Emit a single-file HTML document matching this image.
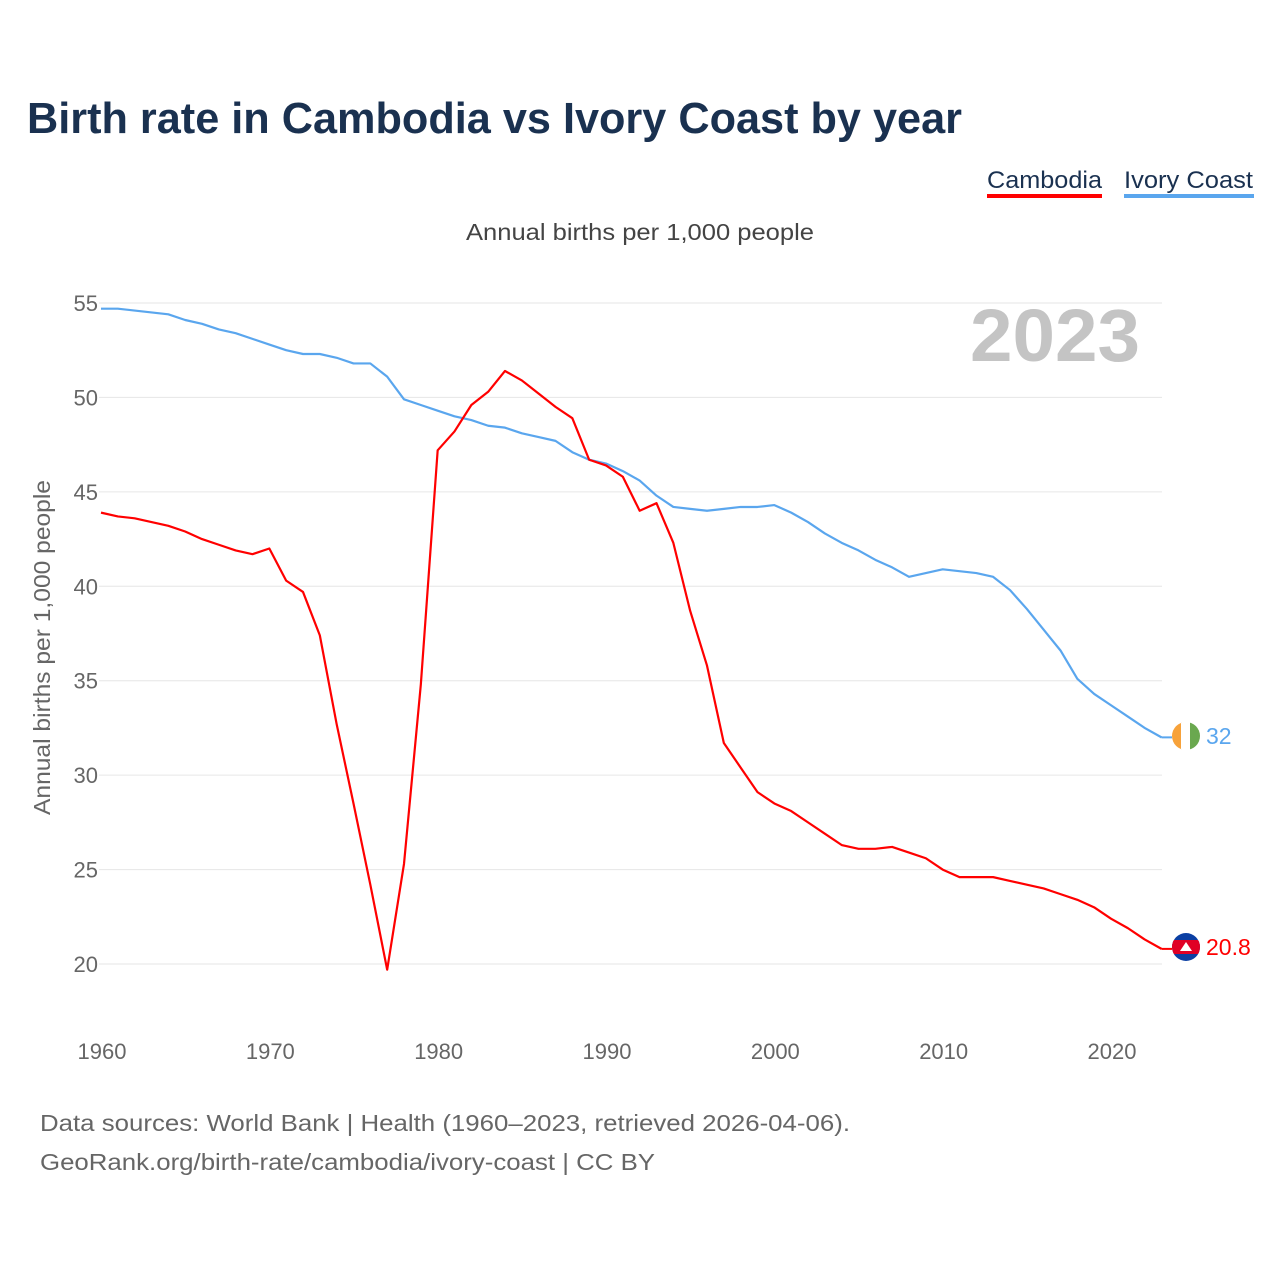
<!DOCTYPE html>
<html><head><meta charset="utf-8">
<style>
body{margin:0;background:#fff;font-family:"Liberation Sans",sans-serif;}
svg text{font-family:"Liberation Sans",sans-serif;}
</style></head>
<body>
<svg id="chart" width="1280" height="1280" xmlns="http://www.w3.org/2000/svg">
<text x="27" y="133" font-size="43.3" font-weight="bold" fill="#1a3150" textLength="935" lengthAdjust="spacingAndGlyphs">Birth rate in Cambodia vs Ivory Coast by year</text>
<g>
<text x="987" y="188" font-size="24" fill="#1a3150" textLength="115" lengthAdjust="spacingAndGlyphs">Cambodia</text>
<rect x="987" y="194" width="115" height="4" fill="#ff0000"/></g>
<g>
<text x="1124" y="188" font-size="24" fill="#1a3150" textLength="129" lengthAdjust="spacingAndGlyphs">Ivory Coast</text>
<rect x="1124" y="194" width="130" height="4" fill="#5aa6ee"/></g>
<text x="466" y="240" font-size="23" fill="#444" textLength="348" lengthAdjust="spacingAndGlyphs">Annual births per 1,000 people</text>
<text transform="translate(50,815) rotate(-90)" font-size="23" fill="#666" textLength="335" lengthAdjust="spacingAndGlyphs">Annual births per 1,000 people</text>
<text x="970" y="361" font-size="74" font-weight="bold" fill="#c4c4c4" textLength="170" lengthAdjust="spacingAndGlyphs">2023</text>
<g id="grid"></g><g id="xt"></g><g id="lines"></g>
<g>
<clipPath id="c1"><circle cx="1186" cy="736" r="14"/></clipPath>
<g clip-path="url(#c1)"><rect x="1172" y="722" width="10" height="28" fill="#f7a23a"/><rect x="1181" y="722" width="10" height="28" fill="#fff"/><rect x="1190" y="722" width="10" height="28" fill="#6aa84f"/></g></g>
<g>
<clipPath id="c2"><circle cx="1186" cy="947" r="14"/></clipPath>
<g clip-path="url(#c2)"><rect x="1172" y="933" width="28" height="28" fill="#0b3fa3"/><rect x="1172" y="940" width="28" height="14" fill="#e00025"/><path d="M1180 951 L1186 942 L1192 951Z" fill="#fff"/></g></g>
<text x="1206" y="744" font-size="23" fill="#5aa6ee">32</text>
<text x="1206" y="955" font-size="23" fill="#ff0000">20.8</text>
<text x="40" y="1131" font-size="23" fill="#666" textLength="810" lengthAdjust="spacingAndGlyphs">Data sources: World Bank | Health (1960–2023, retrieved 2026-04-06).</text>
<text x="40" y="1170" font-size="23" fill="#666" textLength="615" lengthAdjust="spacingAndGlyphs">GeoRank.org/birth-rate/cambodia/ivory-coast | CC BY</text>
</svg>
<script>
const years=[];for(let y=1960;y<=2023;y++)years.push(y);
const cambodia=[43.9,43.7,43.6,43.4,43.2,42.9,42.5,42.2,41.9,41.7,42.0,40.3,39.7,37.4,32.7,28.5,24.2,19.7,25.3,34.8,47.2,48.2,49.6,50.3,51.4,50.9,50.2,49.5,48.9,46.7,46.4,45.8,44.0,44.4,42.3,38.7,35.8,31.7,30.4,29.1,28.5,28.1,27.5,26.9,26.3,26.1,26.1,26.2,25.9,25.6,25.0,24.6,24.6,24.6,24.4,24.2,24.0,23.7,23.4,23.0,22.4,21.9,21.3,20.8];
const ivoryCoast=[54.7,54.7,54.6,54.5,54.4,54.1,53.9,53.6,53.4,53.1,52.8,52.5,52.3,52.3,52.1,51.8,51.8,51.1,49.9,49.6,49.3,49.0,48.8,48.5,48.4,48.1,47.9,47.7,47.1,46.7,46.5,46.1,45.6,44.8,44.2,44.1,44.0,44.1,44.2,44.2,44.3,43.9,43.4,42.8,42.3,41.9,41.4,41.0,40.5,40.7,40.9,40.8,40.7,40.5,39.8,38.8,37.7,36.6,35.1,34.3,33.7,33.1,32.5,32.0];
const yTicks=[20,25,30,35,40,45,50,55];
const xTicks=[1960,1970,1980,1990,2000,2010,2020];
const NS="http://www.w3.org/2000/svg";
const X=v=>101+(v-1960)*(1010/60);
const Y=v=>964-(v-20)*(661/35);
function mk(t,a,p){const e=document.createElementNS(NS,t);for(const k in a)e.setAttribute(k,a[k]);p.appendChild(e);return e;}
const grid=document.getElementById('grid');
yTicks.forEach(v=>{
 const l=mk('line',{x1:99,x2:1162,y1:Y(v),y2:Y(v),stroke:'#e6e6e6','stroke-width':1},grid);
 
 
 const t=mk('text',{x:98,y:Y(v)+8,'font-size':22,fill:'#666','text-anchor':'end'},grid);
 t.textContent=v;
 
 
});
const xt=document.getElementById('xt');
xTicks.forEach(v=>{
 const t=mk('text',{x:X(v)+1,y:1059,'font-size':22,fill:'#666','text-anchor':'middle'},xt);
 t.textContent=v;
 
 
});
const lines=document.getElementById('lines');
function line(d,c,n){
 const p=mk('polyline',{points:d.map((v,i)=>X(years[i])+','+Y(v)).join(' '),fill:'none',stroke:c,'stroke-width':2.2,'stroke-linejoin':'round'},lines);
 
 
}
line(ivoryCoast,'#5aa6ee','series-ivory-coast');
line(cambodia,'#ff0000','series-cambodia');
const e1=mk('line',{x1:X(2023),x2:1172,y1:Y(32),y2:Y(32),stroke:'#5aa6ee','stroke-width':2},lines);


const e2=mk('line',{x1:X(2023),x2:1172,y1:Y(20.8),y2:Y(20.8),stroke:'#ff0000','stroke-width':2},lines);


</script>
</body></html>
